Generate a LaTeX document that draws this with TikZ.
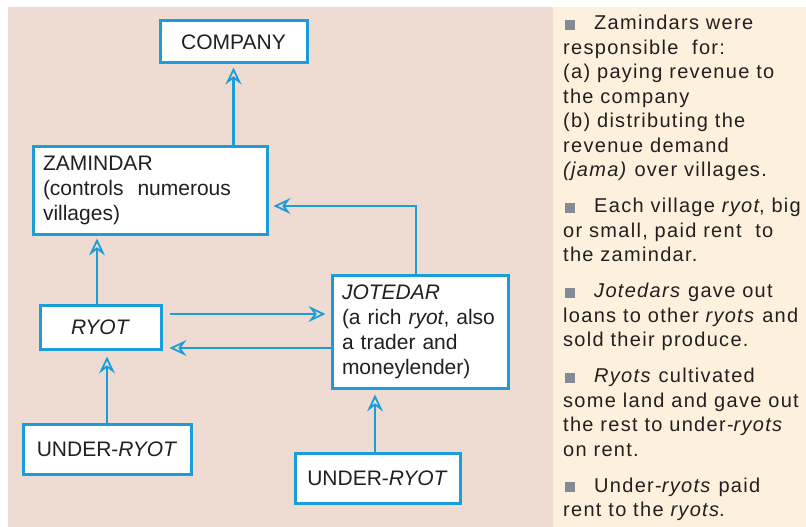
\documentclass[tikz,border=0pt]{standalone}
\usepackage{fontspec}
\setmainfont{Liberation Sans}
\newfontfamily\notesfont[LetterSpace=6.5]{Liberation Sans}
\usepackage{xcolor}
\usetikzlibrary{arrows.meta,positioning}

\definecolor{flowblue}{RGB}{27,157,217}
\definecolor{leftbg}{RGB}{238,219,209}
\definecolor{rightbg}{RGB}{253,241,221}
\definecolor{inkgray}{RGB}{35,31,32}
\definecolor{bulgray}{RGB}{133,139,150}

\newcommand{\bul}{\hspace{2pt}\textcolor{bulgray}{\rule{10pt}{10pt}}\hspace{19pt}}

\tikzset{
  rolebox/.style={rectangle, draw=flowblue, line width=3pt, fill=white,
    text=inkgray, inner sep=0pt, font=\fontsize{21}{25}\selectfont},
  roletext/.style={rolebox, align=left, inner xsep=10pt},
  flowarrow/.style={draw=flowblue, line width=2.6pt,
    -{Stealth[open,line width=1.8pt,length=17pt,width=16pt,inset=6pt]}},
  notes/.style={anchor=north west, inner sep=0pt, align=left, text=inkgray,
    font=\notesfont\fontsize{20}{24.5}\selectfont}
}

\begin{document}
\begin{tikzpicture}[x=1pt,y=-1pt]
  \useasboundingbox (0,0) rectangle (806,527);
  % backgrounds
  \fill[white] (0,0) rectangle (806,527);
  \fill[leftbg] (8,7) rectangle (553,527);
  \fill[rightbg] (553,7) rectangle (806,527);

  % boxes
  \node[rolebox, minimum width=147pt, minimum height=42pt] (com) at (233.5,42) {COMPANY};
  \node[roletext, minimum width=234pt, minimum height=88pt, text width=214pt] (zam) at (150,190)
    {ZAMINDAR\\(controls\ \ numerous\\villages)};
  \node[rolebox, minimum width=121pt, minimum height=44pt] (ryot) at (100.5,327) {\textit{RYOT}};
  \node[roletext, minimum width=176pt, minimum height=113pt, text width=156pt] (jot) at (420,331.5)
    {\textit{JOTEDAR}\\(a rich \textit{ryot}, also\\a trader and\\moneylender)};
  \node[rolebox, minimum width=168pt, minimum height=50pt] (ur1) at (107,449) {UNDER-\textit{RYOT}};
  \node[rolebox, minimum width=165pt, minimum height=50pt] (ur2) at (377.5,478) {UNDER-\textit{RYOT}};

  % connectors
  \draw[flowarrow, shorten >=3pt] (zam.north -| com.south) -- (com.south);
  \draw[flowarrow, shorten >=3pt] ([xshift=-3.5pt]ryot.north) -- ([xshift=-3.5pt]ryot.north |- zam.south);
  \draw[flowarrow, shorten >=5pt] ([xshift=-4pt]jot.north) |- ([yshift=-16pt]zam.east);
  \draw[flowarrow, shorten <=7pt, shorten >=5pt] ([yshift=13pt]ryot.east) -- ([yshift=13pt]ryot.east -| jot.west);
  \draw[flowarrow, shorten >=7pt] ([yshift=-21pt]ryot.east -| jot.west) -- ([yshift=-21pt]ryot.east);
  \draw[flowarrow, shorten >=6pt] (ur1.north) -- (ur1.north |- ryot.south);
  \draw[flowarrow, shorten >=5pt] ([xshift=-2.5pt]ur2.north) -- ([xshift=-2.5pt]ur2.north |- jot.south);

  % side notes
  \node[notes] (notes) at (563,15) {%
    \bul Zamindars were\\
    responsible\ \ for:\\
    (a) paying revenue to\\
    the company\\
    (b) distributing the\\
    revenue demand\\
    \textit{(jama)} over villages.\\[11.5pt]
    \bul Each village \textit{ryot}, big\\
    or small, paid rent\ \ to\\
    the zamindar.\\[11.5pt]
    \bul \textit{Jotedars} gave out\\
    loans to other \textit{ryots} and\\
    sold their produce.\\[11.5pt]
    \bul \textit{Ryots} cultivated\\
    some land and gave out\\
    the rest to under-\textit{ryots}\\
    on rent.\\[11.5pt]
    \bul Under-\textit{ryots} paid\\
    rent to the \textit{ryots}.};
\end{tikzpicture}
\end{document}
